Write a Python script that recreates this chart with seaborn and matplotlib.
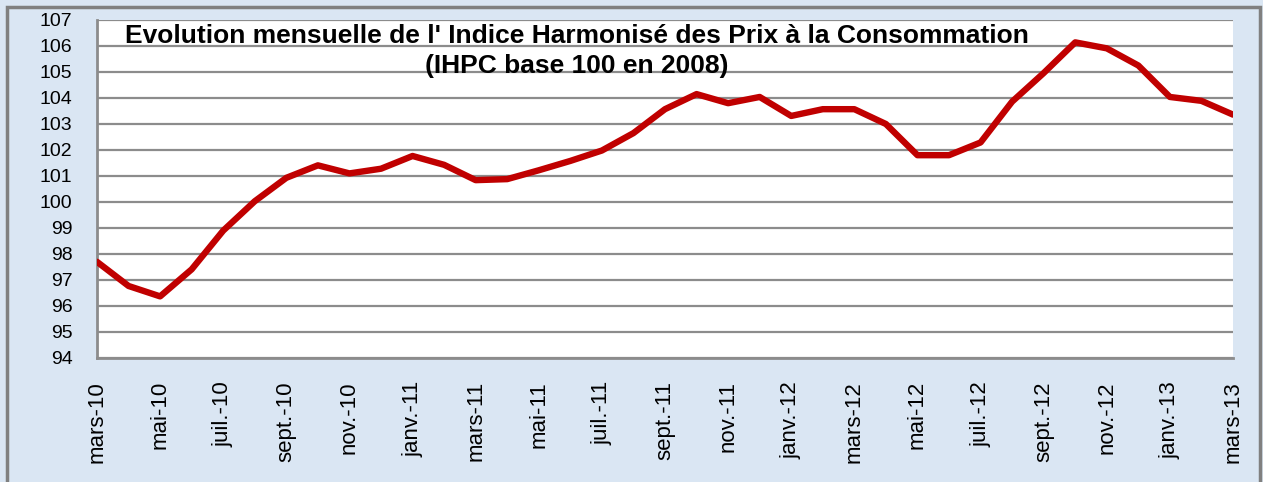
import numpy as np
import pandas as pd
import matplotlib
matplotlib.use("Agg")
import matplotlib.pyplot as plt
import seaborn as sns

months = ["mars", "avr.", "mai", "juin", "juil.", "août", "sept.", "oct.", "nov.", "déc.", "janv.", "févr."]
years = [10] * 10 + [11] * 12 + [12] * 12 + [13] * 3
labels = [f"{months[i % 12]}-{y}" for i, y in enumerate(years)]

ihpc = [97.7, 96.77, 96.37, 97.41, 98.9, 100.03, 100.93, 101.41, 101.1, 101.28,
        101.77, 101.43, 100.84, 100.88, 101.22, 101.58, 101.98, 102.65, 103.57,
        104.15, 103.8, 104.04, 103.31, 103.57, 103.57, 103.0, 101.8, 101.8,
        102.29, 103.86, 104.96, 106.14, 105.91, 105.25, 104.04, 103.89, 103.36]

df = pd.DataFrame({"pos": np.arange(len(labels)), "mois": labels, "ihpc": ihpc})

sns.set_style("white")
plt.rcParams['font.family'] = ['Liberation Sans', 'DejaVu Sans']
plt.rcParams['text.color'] = 'black'
plt.rcParams['xtick.labelcolor'] = 'black'
plt.rcParams['ytick.labelcolor'] = 'black'

fig = plt.figure(figsize=(12.63, 4.82), dpi=100)
fig.patch.set_facecolor("#dae6f3")
ax = fig.add_axes([97 / 1263, 1 - 358 / 482, (1233 - 97) / 1263, (358 - 20) / 482])
ax.set_facecolor("white")

# grid
for v in range(94, 108):
    ax.axhline(v, color="#8c8c8c", lw=1.6, zorder=1)

sns.lineplot(data=df, x="pos", y="ihpc", color="#c00000", lw=4.6, ax=ax, zorder=3)

ax.set_xlim(0, len(labels) - 1)
ax.set_ylim(94, 107)
ax.set_yticks(range(94, 108))
ax.set_yticklabels([str(v) for v in range(94, 108)], fontsize=14)
ax.set_xticks(df["pos"])
ax.set_xticklabels([l if i % 2 == 0 else "" for i, l in enumerate(labels)],
                   rotation=90, fontsize=16)
ax.tick_params(axis="both", direction="out", length=3.6, width=1.5, color="#8c8c8c")
ax.tick_params(axis="x", pad=13)
ax.tick_params(axis="y", pad=14)
ax.set_xlabel("")
ax.set_ylabel("")
for s in ["top", "right"]:
    ax.spines[s].set_visible(False)
for s in ["left", "bottom"]:
    ax.spines[s].set_color("#8c8c8c")
    ax.spines[s].set_linewidth(2)

fig.text(577 / 1263, 1 - 36 / 482, "Evolution mensuelle de l' Indice Harmonisé des Prix à la Consommation",
         ha="center", va="center", fontsize=19, fontweight="bold", color="black")
fig.text(577 / 1263, 1 - 66 / 482, "(IHPC base 100 en 2008)",
         ha="center", va="center", fontsize=19, fontweight="bold", color="black")

# outer frame
fig.add_artist(plt.Rectangle((7 / 1263, -0.01), (1260 - 7) / 1263, 1 - 7 / 482 + 0.01,
                             transform=fig.transFigure, fill=False, ec="#808080", lw=2.5))

fig.savefig("out.png", dpi=100, facecolor=fig.get_facecolor())
